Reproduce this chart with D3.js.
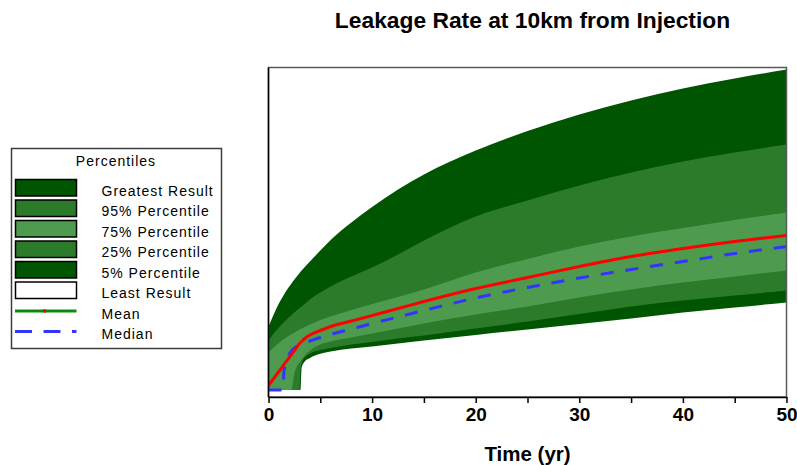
<!DOCTYPE html>
<html>
<head>
<meta charset="utf-8">
<script src="https://cdn.jsdelivr.net/npm/d3@7"></script>
<style>
  html, body { margin: 0; padding: 0; background: #fff; }
  svg { display: block; font-family: "Liberation Sans", Arial, sans-serif; }
</style>
</head>
<body>
<svg id="chart" width="797" height="465"></svg>
<script>
// ---------------- DATA ----------------
const years = [0, 0.5, 1, 1.4, 1.5, 2, 2.2, 2.5, 3, 3.1, 3.2, 3.5, 4, 5, 6, 8, 10, 12.5, 15, 20, 25, 30, 35, 40, 45, 50];

const greatestResult = [0.635, 0.755, 0.865, 0.937, 0.955, 1.035, 1.063, 1.105, 1.17, 1.182, 1.194, 1.23, 1.285, 1.395, 1.50, 1.675, 1.83, 2.005, 2.155, 2.395, 2.59, 2.755, 2.895, 3.015, 3.115, 3.205];
const percentile95 = [0.495, 0.565, 0.625, 0.67, 0.68, 0.73, 0.748, 0.775, 0.82, 0.828, 0.836, 0.86, 0.905, 0.975, 1.035, 1.135, 1.225, 1.355, 1.495, 1.735, 1.895, 2.045, 2.175, 2.285, 2.375, 2.455];
const percentile75 = [0.375, 0.425, 0.47, 0.502, 0.51, 0.545, 0.557, 0.575, 0.605, 0.61, 0.615, 0.63, 0.655, 0.70, 0.735, 0.80, 0.86, 0.93, 1.005, 1.175, 1.31, 1.435, 1.535, 1.62, 1.70, 1.775];
const percentile25 = [0, 0, 0, 0, 0, 0, 0, 0.165, 0.275, 0.29, 0.305, 0.345, 0.395, 0.455, 0.485, 0.525, 0.565, 0.615, 0.665, 0.755, 0.835, 0.925, 1.005, 1.075, 1.135, 1.195];
const percentile5 = [0, 0, 0, 0, 0, 0, 0, 0, 0, 0.215, 0.265, 0.325, 0.365, 0.40, 0.42, 0.455, 0.48, 0.515, 0.545, 0.615, 0.685, 0.76, 0.835, 0.895, 0.945, 0.995];
const leastResult = [0, 0, 0, 0, 0, 0, 0, 0, 0, 0, 0.225, 0.285, 0.32, 0.362, 0.385, 0.415, 0.435, 0.465, 0.495, 0.55, 0.605, 0.66, 0.715, 0.775, 0.825, 0.875];
const meanValues = [0.045, 0.115, 0.185, 0.24, 0.255, 0.325, 0.355, 0.395, 0.465, 0.475, 0.485, 0.515, 0.55, 0.595, 0.635, 0.69, 0.745, 0.815, 0.885, 1.015, 1.125, 1.235, 1.335, 1.415, 1.485, 1.545];
const medianValues = [0, 0, 0, 0, 0.195, 0.355, 0.39, 0.42, 0.45, 0.455, 0.46, 0.47, 0.49, 0.525, 0.555, 0.61, 0.665, 0.73, 0.795, 0.92, 1.025, 1.12, 1.205, 1.285, 1.365, 1.435];

const xTicks = [0, 5, 10, 15, 20, 25, 30, 35, 40, 45, 50];
const xTickLabels = ["0", "", "10", "", "20", "", "30", "", "40", "", "50"];

const bandLabels = ["Greatest Result", "95% Percentile", "75% Percentile", "25% Percentile", "5% Percentile", "Least Result"];
const lineLabels = ["Mean", "Median"];
const titleText = "Leakage Rate at 10km from Injection";
const xAxisTitle = "Time (yr)";
const legendTitle = "Percentiles";

// ---------------- STYLE ----------------
const DARK = "#005500", MID = "#2b7b2b", LIGHT = "#4e9a4e";
const bandFills = [DARK, MID, LIGHT, MID, DARK, "#ffffff"];
const bandSeries = [greatestResult, percentile95, percentile75, percentile25, percentile5, leastResult];

const svg = d3.select("#chart");
const plot = { left: 268.5, right: 786.5, top: 67.5, bottom: 397 };

const x = d3.scaleLinear().domain([0, 50]).range([plot.left, plot.right]);
const y = d3.scaleLinear().domain([-0.07, 3.225]).range([plot.bottom, plot.top]);

svg.append("defs").append("clipPath").attr("id", "plotClip")
  .append("rect")
  .attr("x", plot.left).attr("y", plot.top)
  .attr("width", plot.right - plot.left).attr("height", plot.bottom - plot.top);

const gPlot = svg.append("g").attr("clip-path", "url(#plotClip)");

// bands: each drawn from zero to its curve, top-most first
const area = d3.area()
  .x((d, i) => x(years[i]))
  .y0(() => Math.round(y(0)))
  .y1(d => y(d))
  .curve(d3.curveMonotoneX);

bandSeries.forEach((s, k) => {
  gPlot.append("path")
    .datum(s)
    .attr("d", area)
    .attr("fill", bandFills[k])
    .attr("stroke", "none");
});

const line = d3.line()
  .x((d, i) => x(years[i]))
  .y(d => y(d))
  .curve(d3.curveMonotoneX);

gPlot.append("path")
  .datum(medianValues)
  .attr("d", line)
  .attr("fill", "none")
  .attr("stroke", "#3434ff")
  .attr("stroke-width", 3)
  .attr("stroke-dasharray", "13,12");

gPlot.append("path")
  .datum(meanValues)
  .attr("d", line)
  .attr("fill", "none")
  .attr("stroke", "#ff0000")
  .attr("stroke-width", 3);

// frame
svg.append("rect")
  .attr("x", plot.left).attr("y", plot.top)
  .attr("width", plot.right - plot.left).attr("height", plot.bottom - plot.top)
  .attr("fill", "none").attr("stroke", "#5a5a5a").attr("stroke-width", 1.5);

svg.append("line")
  .attr("x1", plot.left).attr("x2", plot.left)
  .attr("y1", plot.top).attr("y2", plot.bottom)
  .attr("stroke", "#000").attr("stroke-width", 1.5);

// x axis
const xAxis = d3.axisBottom(x)
  .tickValues(xTicks)
  .tickSize(6)
  .tickSizeOuter(0)
  .tickPadding(5)
  .tickFormat((d, i) => xTickLabels[i]);

const gx = svg.append("g")
  .attr("transform", `translate(0,${plot.bottom})`)
  .call(xAxis);
gx.select(".domain").attr("stroke", "#000").attr("stroke-width", 1.5);
gx.selectAll(".tick line").attr("stroke", "#000").attr("stroke-width", 1.5);
gx.selectAll(".tick text")
  .attr("fill", "#000")
  .attr("font-family", "'Liberation Sans', Arial, sans-serif")
  .attr("font-size", 19)
  .attr("font-weight", "bold");
gx.attr("font-family", null).attr("font-size", null);

svg.append("text")
  .attr("x", (plot.left + plot.right) / 2)
  .attr("y", 461)
  .attr("text-anchor", "middle")
  .attr("font-size", 20.5)
  .attr("font-weight", "bold")
  .attr("fill", "#000")
  .text(xAxisTitle);

svg.append("text")
  .attr("x", 532.5)
  .attr("y", 27.5)
  .attr("text-anchor", "middle")
  .attr("font-size", 22.8)
  .attr("font-weight", "bold")
  .attr("fill", "#000")
  .text(titleText);

// legend
const lg = svg.append("g");
lg.append("rect")
  .attr("x", 11.5).attr("y", 148.5).attr("width", 210).attr("height", 200)
  .attr("fill", "#fff").attr("stroke", "#3c3c3c").attr("stroke-width", 1.5);

lg.append("text")
  .attr("x", 116).attr("y", 166)
  .attr("text-anchor", "middle")
  .attr("font-size", 14)
  .attr("letter-spacing", 1)
  .attr("fill", "#000")
  .text(legendTitle);

const rowTop = i => 179.5 + i * 20.5;

bandLabels.forEach((lab, i) => {
  lg.append("rect")
    .attr("x", 15.5).attr("y", rowTop(i))
    .attr("width", 61).attr("height", 16.5)
    .attr("fill", bandFills[i])
    .attr("stroke", "#000").attr("stroke-width", 1.5);
  lg.append("text")
    .attr("x", 101.5).attr("y", rowTop(i) + 16)
    .attr("font-size", 14)
    .attr("letter-spacing", 1)
    .attr("fill", "#000")
    .text(lab);
});

lineLabels.forEach((lab, j) => {
  const i = bandLabels.length + j;
  const ly = rowTop(i) + 8.5;
  if (j === 0) {
    lg.append("line")
      .attr("x1", 15).attr("x2", 76.5).attr("y1", ly).attr("y2", ly)
      .attr("stroke", "#0a8a0a").attr("stroke-width", 3);
    lg.append("rect")
      .attr("x", 43).attr("y", ly - 1.5).attr("width", 3).attr("height", 3)
      .attr("fill", "#ff0000");
  } else {
    lg.append("line")
      .attr("x1", 15).attr("x2", 76.5).attr("y1", ly).attr("y2", ly)
      .attr("stroke", "#3434ff").attr("stroke-width", 3)
      .attr("stroke-dasharray", "17,11.5");
  }
  lg.append("text")
    .attr("x", 101.5).attr("y", rowTop(i) + 16)
    .attr("font-size", 14)
    .attr("letter-spacing", 1)
    .attr("fill", "#000")
    .text(lab);
});
</script>
</body>
</html>
